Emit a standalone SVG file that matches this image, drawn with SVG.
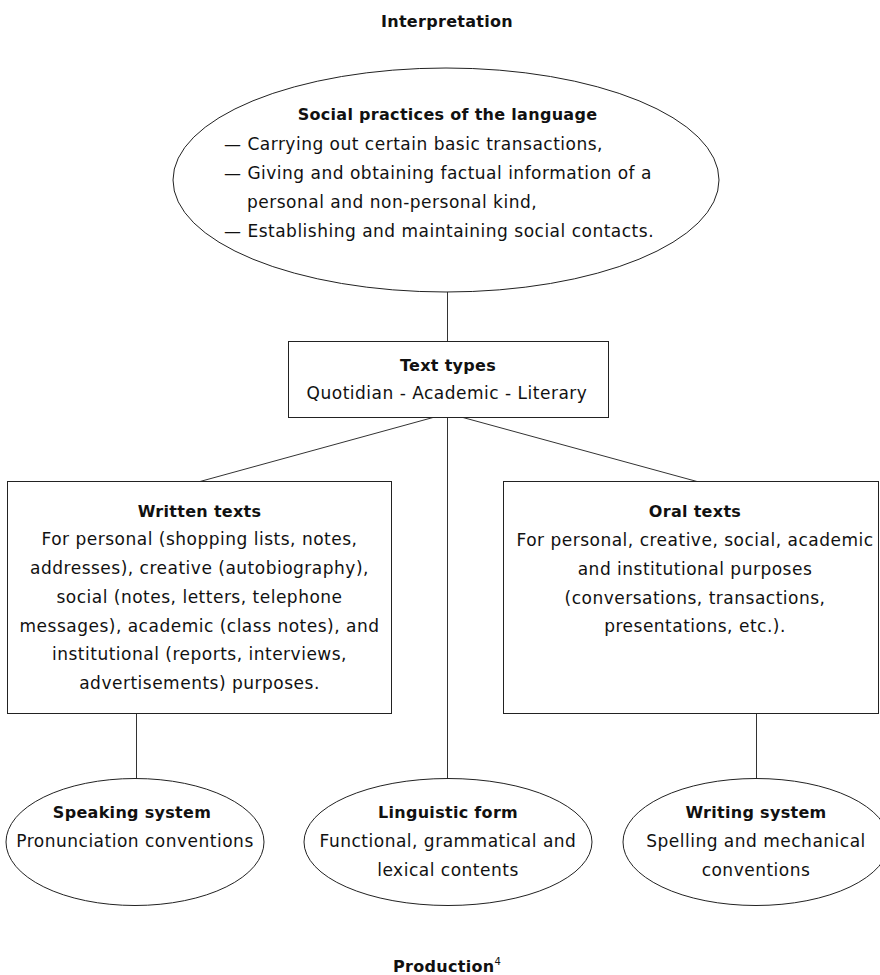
<svg xmlns="http://www.w3.org/2000/svg" width="880" height="975" viewBox="0 0 880 975">
<style>
text{font-family:"DejaVu Sans","Verdana",sans-serif;font-size:17px;fill:#111;letter-spacing:0.5px}
.b{font-size:16px;font-weight:bold;letter-spacing:0.3px}
.c{text-anchor:middle}
.shape{fill:#fff;stroke:#222;stroke-width:1}
.conn line{stroke:#333;stroke-width:1}
</style>
<rect width="880" height="975" fill="#fff"/>
<g id="label-interpretation"><text class="b c" x="447" y="27">Interpretation</text></g>

<g id="connectors" class="conn">
<line x1="447.5" y1="292" x2="447.5" y2="341.5"/>
<line x1="433" y1="417.5" x2="200" y2="481.5"/>
<line x1="463" y1="417.5" x2="697" y2="481.5"/>
<line x1="447.5" y1="417.5" x2="447.5" y2="778.5"/>
<line x1="136.5" y1="713.5" x2="136.5" y2="778.5"/>
<line x1="756.5" y1="713.5" x2="756.5" y2="778.5"/>
</g>

<g id="social-practices">
<ellipse class="shape" cx="446" cy="180" rx="273" ry="112"/>
<text class="b c" x="447.5" y="120">Social practices of the language</text>
<text x="224" y="150">— Carrying out certain basic transactions,</text>
<text x="224" y="179">— Giving and obtaining factual information of a</text>
<text x="247" y="208">personal and non-personal kind,</text>
<text x="224" y="237">— Establishing and maintaining social contacts.</text>
</g>

<g id="text-types">
<rect class="shape" x="288.5" y="341.5" width="320" height="76"/>
<text class="b c" x="448" y="371">Text types</text>
<text class="c" x="447" y="399">Quotidian - Academic - Literary</text>
</g>

<g id="written-texts">
<rect class="shape" x="7.5" y="481.5" width="384" height="232"/>
<text class="b c" x="199.5" y="517">Written texts</text>
<text class="c" x="199.5" y="545">For personal (shopping lists, notes,</text>
<text class="c" x="199.5" y="574">addresses), creative (autobiography),</text>
<text class="c" x="199.5" y="603">social (notes, letters, telephone</text>
<text class="c" x="199.5" y="632">messages), academic (class notes), and</text>
<text class="c" x="199.5" y="660">institutional (reports, interviews,</text>
<text class="c" x="199.5" y="689">advertisements) purposes.</text>
</g>

<g id="oral-texts">
<rect class="shape" x="503.5" y="481.5" width="375" height="232"/>
<text class="b c" x="695" y="517">Oral texts</text>
<text class="c" x="695" y="546">For personal, creative, social, academic</text>
<text class="c" x="695" y="575">and institutional purposes</text>
<text class="c" x="695" y="604">(conversations, transactions,</text>
<text class="c" x="695" y="632">presentations, etc.).</text>
</g>

<g id="speaking-system">
<ellipse class="shape" cx="135" cy="842" rx="129" ry="63.5"/>
<text class="b c" x="132" y="818">Speaking system</text>
<text class="c" x="135" y="847">Pronunciation conventions</text>
</g>

<g id="linguistic-form">
<ellipse class="shape" cx="448" cy="842" rx="144" ry="63.5"/>
<text class="b c" x="448" y="818">Linguistic form</text>
<text class="c" x="448" y="847">Functional, grammatical and</text>
<text class="c" x="448" y="876">lexical contents</text>
</g>

<g id="writing-system">
<ellipse class="shape" cx="756" cy="842" rx="133" ry="63.5"/>
<text class="b c" x="756" y="818">Writing system</text>
<text class="c" x="756" y="847">Spelling and mechanical</text>
<text class="c" x="756" y="876">conventions</text>
</g>

<g id="label-production"><text class="b" x="393" y="972">Production<tspan font-size="10" font-weight="normal" dy="-7" letter-spacing="0">4</tspan></text></g>
</svg>
